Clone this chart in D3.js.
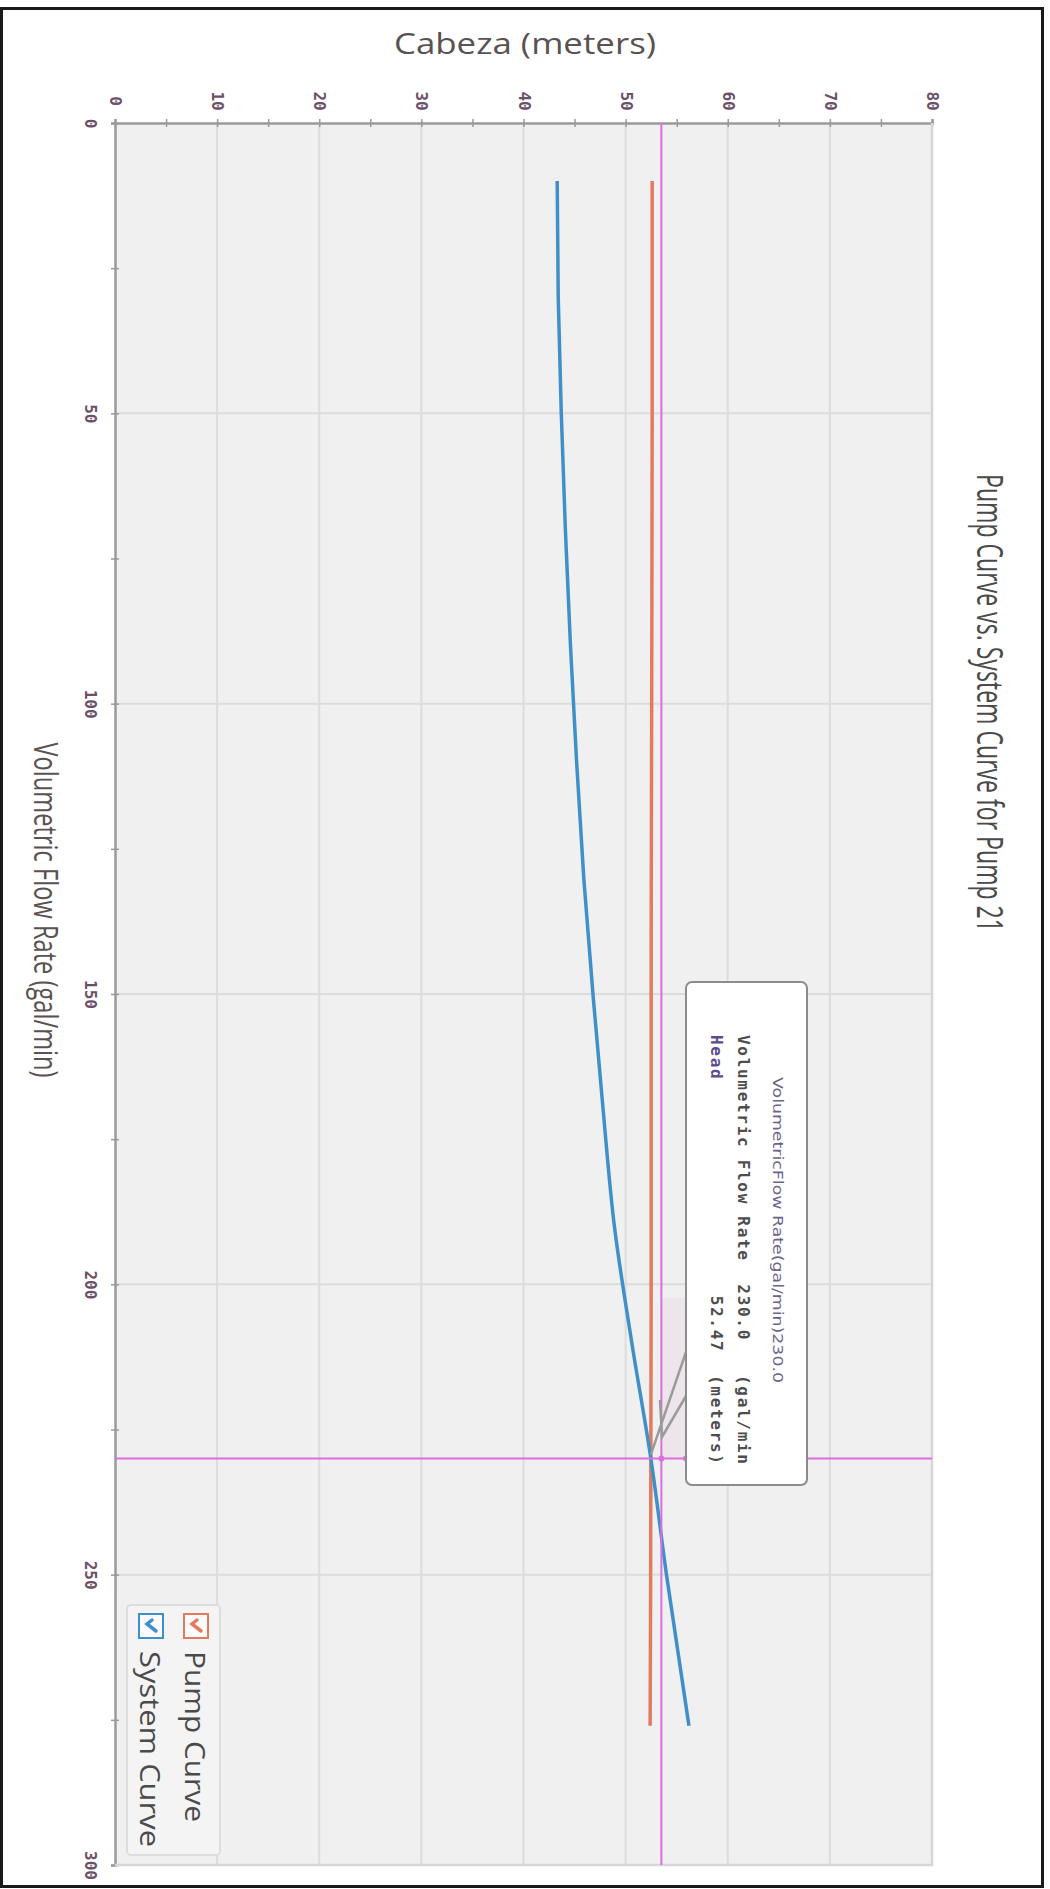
<!DOCTYPE html>
<html>
<head>
<meta charset="utf-8">
<script src="https://cdn.jsdelivr.net/npm/d3@7"></script>
<style>
  body { margin: 0; background: #fff; }
  svg { display: block; }
</style>
</head>
<body>
<svg id="chart" width="1050" height="1889"></svg>
<script>
// Axis ticks
const headMajor = [0, 10, 20, 30, 40, 50, 60, 70, 80];
const flowMajor = [0, 50, 100, 150, 200, 250, 300];

// Pump curve (flow in gal/min, head in meters)
const pumpFlow = [10, 50, 100, 150, 200, 230, 250, 276];
const pumpHead = [52.6, 52.6, 52.55, 52.5, 52.5, 52.47, 52.45, 52.4];

// System curve
const systemFlow = [10, 30, 50, 70, 90, 110, 130, 150, 170, 190, 210, 230, 250, 276];
const systemHead = [43.3, 43.4, 43.7, 44.1, 44.6, 45.2, 45.9, 46.8, 47.8, 48.9, 50.6, 52.47, 54.0, 56.2];

// Operating point read-out and hover cursor
const operatingFlow = 230.0;
const operatingHead = 52.47;
const cursorHead = 53.5;

const seriesNames = ["Pump Curve", "System Curve"];
const seriesColors = ["#e27a5e", "#3f8fc8"];

const svg = d3.select("#chart");
const x = d3.scaleLinear().domain([0, 80]).range([115, 932]);
const y = d3.scaleLinear().domain([0, 300]).range([123, 1865]);

// outer frame
svg.append("rect").attr("x", 1.5).attr("y", 8.5).attr("width", 1041).attr("height", 1878)
  .attr("fill", "#fff").attr("stroke", "#1a1a1a").attr("stroke-width", 3);

// plot background
svg.append("rect").attr("x", x(0)).attr("y", y(0))
  .attr("width", x(80) - x(0)).attr("height", y(300) - y(0))
  .attr("fill", "#f0f0f0");

// grid
const grid = svg.append("g").attr("stroke", "#dcdcdc").attr("stroke-width", 2);
grid.selectAll(".gx").data(headMajor.slice(1)).join("line")
  .attr("x1", d => x(d)).attr("x2", d => x(d)).attr("y1", y(0)).attr("y2", y(300));
grid.selectAll(".gy").data(flowMajor.slice(1)).join("line")
  .attr("x1", x(0)).attr("x2", x(80)).attr("y1", d => y(d)).attr("y2", d => y(d));

// head axis along the top
const headAxis = svg.append("g").attr("transform", `translate(0,${y(0)})`)
  .call(d3.axisTop(x).tickValues(d3.range(0, 81, 5)).tickSize(4)
    .tickFormat(d => d % 10 === 0 ? d : ""));
headAxis.select(".domain").attr("stroke", "#9a9a9a").attr("stroke-width", 2.5);
headAxis.selectAll(".tick line").attr("y1", -4).attr("y2", 4).attr("stroke", "#9a9a9a").attr("stroke-width", 1.5);
headAxis.selectAll(".tick text")
  .attr("x", 0).attr("y", 0).attr("dy", null)
  .attr("transform", "translate(0,-22) rotate(90)")
  .attr("text-anchor", "middle").attr("dominant-baseline", "central")
  .attr("font-family", "DejaVu Sans Mono").attr("font-weight", "bold")
  .attr("font-size", 16).attr("fill", "#6b5068");

// flow axis along the left
const flowAxis = svg.append("g").attr("transform", `translate(${x(0)},0)`)
  .call(d3.axisLeft(y).tickValues(d3.range(0, 301, 25)).tickSize(4)
    .tickFormat(d => d % 50 === 0 ? d : ""));
flowAxis.select(".domain").attr("stroke", "#9a9a9a").attr("stroke-width", 2.5);
flowAxis.selectAll(".tick line").attr("x1", -4).attr("x2", 4).attr("stroke", "#9a9a9a").attr("stroke-width", 1.5);
flowAxis.selectAll(".tick text")
  .attr("x", 0).attr("y", 0).attr("dy", null)
  .attr("transform", "translate(-25,0) rotate(90)")
  .attr("text-anchor", "middle").attr("dominant-baseline", "central")
  .attr("font-family", "DejaVu Sans Mono").attr("font-weight", "bold")
  .attr("font-size", 16).attr("fill", "#6b5068");

// right / bottom plot edges
svg.append("path")
  .attr("d", `M${x(80)},${y(0)}V${y(300)}H${x(0)}`)
  .attr("fill", "none").attr("stroke", "#d6d6d6").attr("stroke-width", 2.5);

// tooltip callout shading
svg.append("rect").attr("x", x(cursorHead)).attr("y", 1298)
  .attr("width", 686 - x(cursorHead)).attr("height", y(operatingFlow) - 1298)
  .attr("fill", "#ece5ec");

// series
const line = d3.line().x(d => x(d[1])).y(d => y(d[0])).curve(d3.curveMonotoneY);
svg.append("path").datum(d3.zip(pumpFlow, pumpHead))
  .attr("d", line).attr("fill", "none").attr("stroke", seriesColors[0]).attr("stroke-width", 3.5);
svg.append("path").datum(d3.zip(systemFlow, systemHead))
  .attr("d", line).attr("fill", "none").attr("stroke", seriesColors[1]).attr("stroke-width", 3.5);

// cursor cross-hair
const cross = svg.append("g").attr("stroke", "#dd6ee0").attr("stroke-width", 2);
cross.append("line").attr("x1", x(cursorHead)).attr("x2", x(cursorHead)).attr("y1", y(0)).attr("y2", y(300));
cross.append("line").attr("x1", x(0)).attr("x2", x(80)).attr("y1", y(operatingFlow)).attr("y2", y(operatingFlow));

// tooltip pointer strokes
svg.append("path")
  .attr("d", `M${x(operatingHead)},${y(operatingFlow) - 4}L686,1352M686,1396L662,1437L660,1400`)
  .attr("fill", "none").attr("stroke", "#9a9a9a").attr("stroke-width", 2.5);

svg.selectAll(".cdot").data([x(cursorHead), 686]).join("circle")
  .attr("cx", d => d).attr("cy", y(operatingFlow)).attr("r", 3).attr("fill", "#dd6ee0");

// tooltip box
const tip = svg.append("g");
svg.append("defs").append("clipPath").attr("id", "tipClip")
  .append("rect").attr("x", 686).attr("y", 982).attr("width", 121).attr("height", 485).attr("rx", 6);
tip.append("rect").attr("x", 686).attr("y", 982).attr("width", 121).attr("height", 503).attr("rx", 6)
  .attr("fill", "#fff").attr("stroke", "#8c8c8c").attr("stroke-width", 2);
const tipText = tip.append("g").attr("clip-path", "url(#tipClip)");
tipText.append("text")
  .attr("transform", "translate(778,1077) rotate(90)")
  .attr("dominant-baseline", "central")
  .attr("font-family", "DejaVu Sans").attr("font-size", 14)
  .attr("textLength", 306).attr("lengthAdjust", "spacingAndGlyphs")
  .attr("fill", "#6a6488")
  .text(`VolumetricFlow Rate(gal/min)${operatingFlow.toFixed(1)}`);
tipText.append("text")
  .attr("transform", "translate(743,1035) rotate(90)")
  .attr("dominant-baseline", "central")
  .attr("font-family", "DejaVu Sans Mono").attr("font-size", 16).attr("font-weight", "bold")
  .attr("letter-spacing", 1.7).style("white-space", "pre").attr("fill", "#4d4d4d")
  .text(`Volumetric Flow Rate  ${operatingFlow.toFixed(1)}   (gal/min)`);
const headRow = tipText.append("text")
  .attr("transform", "translate(717,1035) rotate(90)")
  .attr("dominant-baseline", "central")
  .attr("font-family", "DejaVu Sans Mono").attr("font-size", 16).attr("font-weight", "bold")
  .attr("letter-spacing", 1.7).style("white-space", "pre");
headRow.append("tspan").attr("fill", "#5b4c8c").text("Head");
headRow.append("tspan").attr("fill", "#4d4d4d")
  .text(`                   ${operatingHead.toFixed(2)}  (meters)`);

// legend
const legend = svg.append("g");
legend.append("rect").attr("x", 127).attr("y", 1605).attr("width", 93).attr("height", 250).attr("rx", 4)
  .attr("fill", "#f4f4f4").attr("stroke", "#dddddd").attr("stroke-width", 2);
const legendX = [196, 151];
const legendLen = [171, 196];
seriesNames.forEach((name, i) => {
  const g = legend.append("g").attr("transform", `translate(${legendX[i]},1626) rotate(90)`);
  g.append("rect").attr("x", -12).attr("y", -12).attr("width", 24).attr("height", 24)
    .attr("fill", "#fafafa").attr("stroke", seriesColors[i]).attr("stroke-width", 2);
  g.append("path").attr("d", "M-6,-1L-2,4L5,-5")
    .attr("fill", "none").attr("stroke", seriesColors[i]).attr("stroke-width", 3.5).attr("stroke-linecap", "round");
  legend.append("text")
    .attr("transform", `translate(${legendX[i]},1651) rotate(90)`)
    .attr("dominant-baseline", "central")
    .attr("font-family", "Open Sans").attr("font-size", 28)
    .attr("textLength", legendLen[i]).attr("lengthAdjust", "spacingAndGlyphs")
    .attr("fill", "#4a4a4a").text(name);
});

// titles
svg.append("text")
  .attr("transform", "translate(990,703) rotate(90)")
  .attr("text-anchor", "middle").attr("dominant-baseline", "central")
  .attr("font-family", "Open Sans").attr("font-size", 36)
  .attr("textLength", 458).attr("lengthAdjust", "spacingAndGlyphs")
  .attr("fill", "#4a4a4a")
  .text("Pump Curve vs. System Curve for Pump 21");

svg.append("text")
  .attr("x", 525).attr("y", 42)
  .attr("text-anchor", "middle").attr("dominant-baseline", "central")
  .attr("font-family", "Open Sans").attr("font-size", 29)
  .attr("textLength", 262).attr("lengthAdjust", "spacingAndGlyphs")
  .attr("fill", "#5a5252")
  .text("Cabeza (meters)");

svg.append("text")
  .attr("transform", "translate(46,910) rotate(90)")
  .attr("text-anchor", "middle").attr("dominant-baseline", "central")
  .attr("font-family", "Open Sans").attr("font-size", 32)
  .attr("textLength", 335).attr("lengthAdjust", "spacingAndGlyphs")
  .attr("fill", "#5a5252")
  .text("Volumetric Flow Rate (gal/min)");
</script>
</body>
</html>
